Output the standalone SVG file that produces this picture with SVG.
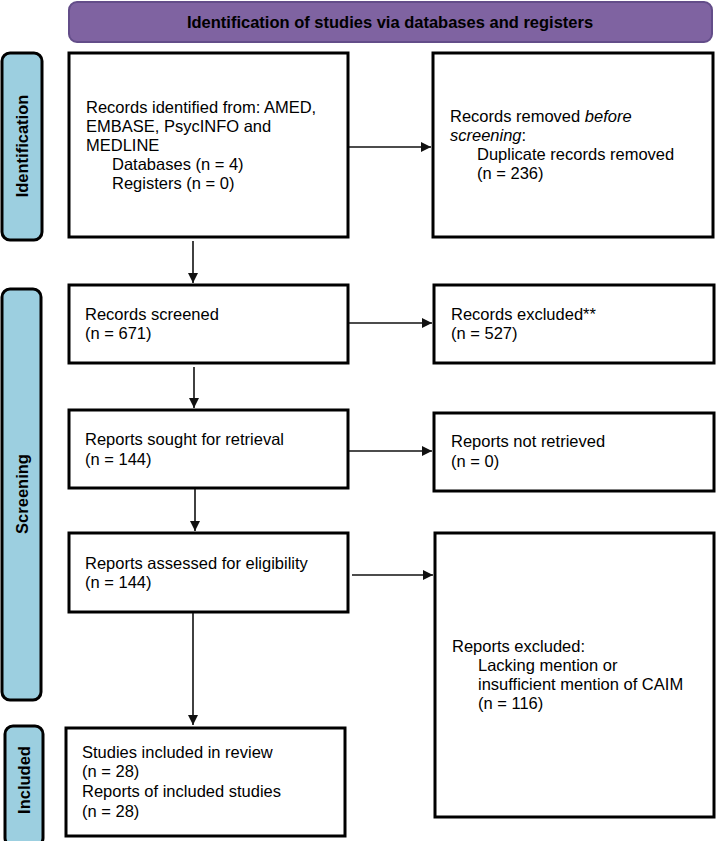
<svg xmlns="http://www.w3.org/2000/svg" width="716" height="841" viewBox="0 0 716 841">
<defs>
<marker id="ah" viewBox="0 0 10 10" refX="10" refY="5" markerWidth="10" markerHeight="10" markerUnits="userSpaceOnUse" orient="auto">
<path d="M0,0 L10,5 L0,10 Z" fill="#111"/>
</marker>
</defs>
<style>
.box{fill:#fff;stroke:#000;stroke-width:3}
.side{fill:#9ccfe0;stroke:#000;stroke-width:3}
.t{font-family:"Liberation Sans",Arial,sans-serif;font-size:16.5px;fill:#000}
.b{font-family:"Liberation Sans",Arial,sans-serif;font-size:16.5px;font-weight:bold;fill:#000}
.c{stroke:#111;stroke-width:1.6;fill:none;marker-end:url(#ah)}
</style>
<rect width="716" height="841" fill="#fff"/>
<g id="title">
<rect x="69" y="2" width="643" height="40" rx="8" fill="#7f63a1" stroke="#634d89" stroke-width="2"/>
<text class="b" x="390" y="28" text-anchor="middle">Identification of studies via databases and registers</text>
</g>
<g id="side-identification">
<rect class="side" x="2" y="53" width="40" height="187" rx="8"/>
<text class="b" transform="translate(28,146) rotate(-90)" text-anchor="middle">Identification</text>
</g>
<g id="side-screening">
<rect class="side" x="2" y="289" width="39" height="411" rx="8"/>
<text class="b" transform="translate(28,494) rotate(-90)" text-anchor="middle">Screening</text>
</g>
<g id="side-included">
<rect class="side" x="5" y="726" width="38" height="120" rx="8"/>
<text class="b" transform="translate(30,780) rotate(-90)" text-anchor="middle">Included</text>
</g>
<g id="n1">
<rect class="box" x="69" y="53" width="279" height="184"/>
<text class="t" x="86" y="113">Records identified from: AMED,</text>
<text class="t" x="86" y="132">EMBASE, PsycINFO and</text>
<text class="t" x="86" y="151">MEDLINE</text>
<text class="t" x="112" y="170">Databases (n = 4)</text>
<text class="t" x="112" y="189">Registers (n = 0)</text>
</g>
<g id="n2">
<rect class="box" x="433" y="53" width="280" height="184"/>
<text class="t" x="450" y="122">Records removed <tspan font-style="italic">before</tspan></text>
<text class="t" x="450" y="141"><tspan font-style="italic">screening</tspan>:</text>
<text class="t" x="477" y="160">Duplicate records removed</text>
<text class="t" x="477" y="179">(n = 236)</text>
</g>
<g id="n3">
<rect class="box" x="69" y="285" width="279" height="78"/>
<text class="t" x="85" y="320">Records screened</text>
<text class="t" x="85" y="339">(n = 671)</text>
</g>
<g id="n4">
<rect class="box" x="434" y="285" width="280" height="78"/>
<text class="t" x="451" y="320">Records excluded**</text>
<text class="t" x="451" y="339">(n = 527)</text>
</g>
<g id="n5">
<rect class="box" x="69" y="410" width="279" height="78"/>
<text class="t" x="85" y="445">Reports sought for retrieval</text>
<text class="t" x="85" y="465">(n = 144)</text>
</g>
<g id="n6">
<rect class="box" x="434" y="413" width="280" height="78"/>
<text class="t" x="451" y="447">Reports not retrieved</text>
<text class="t" x="451" y="467">(n = 0)</text>
</g>
<g id="n7">
<rect class="box" x="69" y="533" width="279" height="79"/>
<text class="t" x="85" y="569">Reports assessed for eligibility</text>
<text class="t" x="85" y="588">(n = 144)</text>
</g>
<g id="n8">
<rect class="box" x="435" y="533" width="279" height="284"/>
<text class="t" x="452" y="652">Reports excluded:</text>
<text class="t" x="478" y="671">Lacking mention or</text>
<text class="t" x="478" y="690">insufficient mention of CAIM</text>
<text class="t" x="478" y="709">(n = 116)</text>
</g>
<g id="n9">
<rect class="box" x="66" y="728" width="279" height="108"/>
<text class="t" x="82" y="758">Studies included in review</text>
<text class="t" x="82" y="777">(n = 28)</text>
<text class="t" x="82" y="797">Reports of included studies</text>
<text class="t" x="82" y="817">(n = 28)</text>
</g>
<g id="connectors">
<line class="c" x1="349" y1="147" x2="431" y2="147"/>
<line class="c" x1="193" y1="241" x2="193" y2="283"/>
<line class="c" x1="349" y1="323" x2="432" y2="323"/>
<line class="c" x1="194" y1="367" x2="194" y2="408"/>
<line class="c" x1="349" y1="451" x2="432" y2="451"/>
<line class="c" x1="195" y1="489" x2="195" y2="531"/>
<line class="c" x1="352" y1="575" x2="433" y2="575"/>
<line class="c" x1="193" y1="613" x2="193" y2="725"/>
</g>
</svg>
